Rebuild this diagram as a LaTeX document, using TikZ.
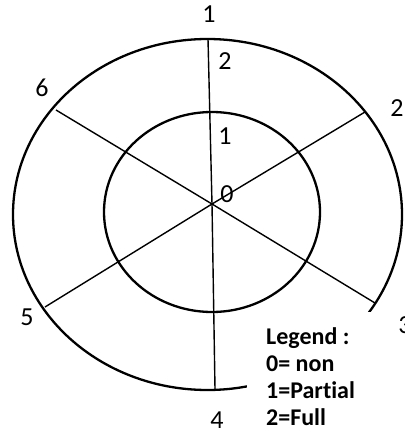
\documentclass[tikz,border=0pt]{standalone}
\usepackage{fontspec}
\setmainfont{Carlito}[Ligatures=NoCommon]
\begin{document}
\begin{tikzpicture}[x=1pt,y=-1pt]
    \tikzset{ring/.style = {line width=2.3pt}}
    \tikzset{spoke/.style = {line width=1.4pt}}
    \tikzset{num/.style = {inner sep=0pt, font=\fontsize{26}{30}\selectfont}}
    \tikzset{legend/.style = {fill=white, anchor=north west, inner xsep=19pt, inner ysep=15pt, align=left, font=\fontsize{24}{27}\selectfont\bfseries}}
    \useasboundingbox (0,0) rectangle (404,436);
    \draw[ring] (207.5,214.5) ellipse [x radius=194.5pt, y radius=175.5pt];
    \draw[ring] (212,212) ellipse [x radius=108pt, y radius=100pt];
    \coordinate (hub) at (212,204);
    \coordinate (end1) at (208,39);
    \coordinate (end2) at (365,112);
    \coordinate (end3) at (375,303);
    \coordinate (end4) at (215,389);
    \coordinate (end5) at (45,307);
    \coordinate (end6) at (56,110);
    \draw[spoke] (hub) -- (end1);
    \draw[spoke] (hub) -- (end2);
    \draw[spoke] (hub) -- (end3);
    \draw[spoke] (hub) -- (end4);
    \draw[spoke] (hub) -- (end5);
    \draw[spoke] (hub) -- (end6);
    \node[legend] (legend) at (247,312) {Legend :\\0= non\\1=Partial\\2=Full};
    \node[num] (lab1) at (209,14.5) {1};
    \node[num] (lab2) at (397,108) {2};
    \node[num] (lab3) at (405,325) {3};
    \node[num] (lab4) at (217,420) {4};
    \node[num] (lab5) at (27,317) {5};
    \node[num] (lab6) at (42,88) {6};
    \node[num] (lev2) at (225,61) {2};
    \node[num] (lev1) at (225,136) {1};
    \node[num] (lev0) at (227,194) {0};
\end{tikzpicture}
\end{document}
